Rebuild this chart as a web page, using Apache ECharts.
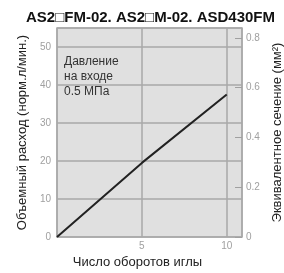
<!DOCTYPE html>
<html><head><meta charset="utf-8">
<script src="https://cdn.jsdelivr.net/npm/echarts@6/dist/echarts.min.js"></script>
<style>html,body{margin:0;padding:0;background:#fff}#c{width:284px;height:273px}</style>
</head><body><div id="c"></div>
<script>
var title = "AS2\u25A1FM-02. AS2\u25A1M-02. ASD430FM";
var xTitle = "Число оборотов иглы";
var yLeftTitle = "Объемный расход (норм.л/мин.)";
var yRightTitle = "Эквивалентное сечение (мм\u00B2)";
var note = "Давление\nна входе\n0.5 МПа";
var turns = [0, 5, 10];
var flow = [0, 19.5, 37.5];

var chart = echarts.init(document.getElementById('c'));
var font = 'Liberation Sans, Arial, sans-serif';
var tickLabel = {color: '#a0a0a0', fontSize: 10, fontFamily: font};
chart.setOption({
  animation: false,
  title: {text: title, left: 21, top: 5, textStyle: {fontSize: 15, fontWeight: 'bold', color: '#111', fontFamily: font}},
  grid: {left: 57, top: 28, right: 42, bottom: 36, outerBoundsMode: 'none', containLabel: false, show: true, backgroundColor: '#e0e0e0', borderColor: '#a9a9a9', borderWidth: 1.5},
  xAxis: {type: 'value', min: 0, max: 10.9, interval: 5,
    name: xTitle, nameLocation: 'middle', nameGap: 19, nameTextStyle: {color: '#222', fontSize: 13, fontFamily: font, padding: [0, 24, 0, 0]},
    axisLine: {show: false}, axisTick: {show: false},
    axisLabel: Object.assign({showMaxLabel: false, showMinLabel: false, margin: 4}, tickLabel),
    splitLine: {show: true, lineStyle: {color: '#a9a9a9', width: 1.5}}},
  yAxis: [
    {type: 'value', min: 0, max: 55, interval: 10,
     name: yLeftTitle, nameLocation: 'middle', nameRotate: 90, nameGap: 24, nameTextStyle: {color: '#222', fontSize: 13, fontFamily: font},
     axisLine: {show: false}, axisTick: {show: false},
     axisLabel: Object.assign({showMaxLabel: false, margin: 6}, tickLabel),
     splitLine: {show: true, lineStyle: {color: '#a9a9a9', width: 1.5}}},
    {type: 'value', min: 0, max: 0.84, interval: 0.2, position: 'right',
     name: yRightTitle, nameLocation: 'middle', nameRotate: 90, nameGap: 21, nameTextStyle: {color: '#222', fontSize: 13, fontFamily: font},
     axisLine: {show: false}, axisTick: {show: true, inside: true, length: 7, lineStyle: {color: '#a0a0a0', width: 1}},
     axisLabel: Object.assign({showMaxLabel: false, margin: 4, formatter: function(v){return String(v);}}, tickLabel),
     splitLine: {show: false}}
  ],
  graphic: [{type: 'text', left: 64, top: 54, style: {text: note, fontSize: 12, lineHeight: 15, fill: '#333', fontFamily: font}}],
  series: [{type: 'line', yAxisIndex: 0, showSymbol: false, data: turns.map(function(t, i){return [t, flow[i]];}),
    lineStyle: {color: '#222', width: 2}}]
});
</script></body></html>
